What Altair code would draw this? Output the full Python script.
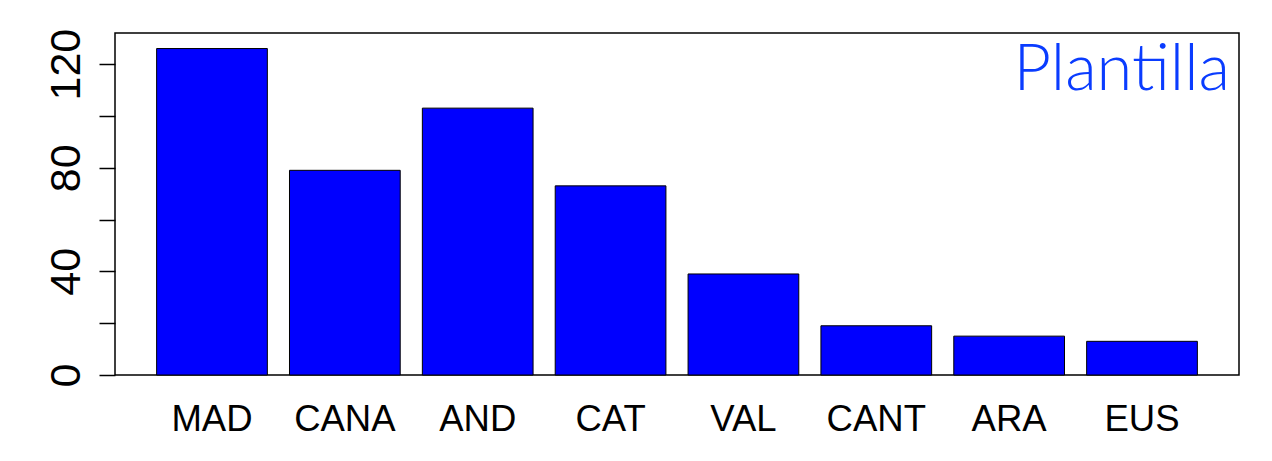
import altair as alt
import pandas as pd

regions = ["MAD", "CANA", "AND", "CAT", "VAL", "CANT", "ARA", "EUS"]
plantilla = [126, 79, 103, 73, 39, 19, 15, 13]
y_ticks = [0, 20, 40, 60, 80, 100, 120]
y_domain = [0, 132]
title_text = "Plantilla"

df = pd.DataFrame({"region": regions, "valor": plantilla})

bars = alt.Chart(df).mark_bar(
    color="#0000ff", stroke="black", strokeWidth=1
).encode(
    x=alt.X(
        "region:N",
        sort=regions,
        scale=alt.Scale(paddingInner=0.2 / 1.2, paddingOuter=0.376 / 1.2),
        axis=alt.Axis(
            title=None, ticks=False, tickSize=0, domain=False,
            labelAngle=0, labelFont="Liberation Sans", labelFontSize=36.5,
            labelColor="black", labelBaseline="alphabetic", labelPadding=55,
        ),
    ),
    y=alt.Y(
        "valor:Q",
        scale=alt.Scale(domain=y_domain, nice=False, zero=True),
        axis=alt.Axis(
            title=None, values=y_ticks, grid=False, domain=False,
            tickSize=16, tickColor="black", tickWidth=1.5,
            labelExpr="datum.value % 40 == 0 ? datum.label : ''",
            labelAngle=-90, labelAlign="center", labelBaseline="alphabetic",
            labelPadding=20, labelFont="Liberation Sans", labelFontSize=43,
            labelColor="black",
        ),
    ),
)

label = alt.Chart(pd.DataFrame({"t": [title_text]})).mark_text(
    align="right", baseline="alphabetic", font="Lato", fontWeight=300,
    fontSize=65, color="#0a3cff",
).encode(
    text="t:N",
    x=alt.value(1115),
    y=alt.value(57),
)

chart = alt.layer(bars, label).properties(
    width=1124,
    height=342,
    autosize=alt.AutoSizeParams(type="none"),
    padding={"left": 107, "top": 25, "right": 20, "bottom": 75},
).configure(
    background="white",
    view=alt.ViewConfig(stroke="black", strokeWidth=1.5),
)

chart.save("out.html", embed_options={"renderer": "svg", "actions": False})
